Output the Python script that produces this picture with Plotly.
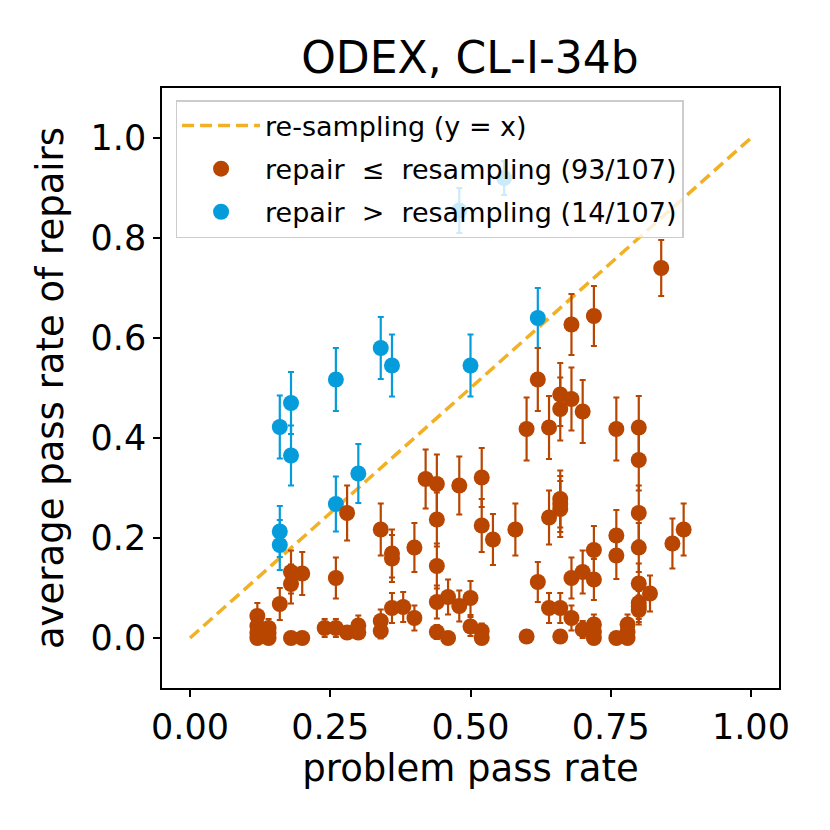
import plotly.graph_objects as go

# Orange: repair <= resampling
orange_x = [0.68, 0.72, 0.84, 0.62, 0.66, 0.68, 0.66, 0.70, 0.60, 0.64,
            0.76, 0.80, 0.80, 0.52, 0.66, 0.66, 0.64, 0.80, 0.52, 0.54,
            0.58, 0.76, 0.72, 0.76, 0.80, 0.86, 0.88, 0.62, 0.68, 0.70,
            0.72, 0.80, 0.82, 0.64, 0.66, 0.68, 0.80, 0.80, 0.50, 0.50,
            0.52, 0.52, 0.60, 0.66, 0.70, 0.72, 0.72, 0.76, 0.78, 0.78,
            0.28, 0.34, 0.36, 0.36, 0.40, 0.42, 0.44, 0.48, 0.44, 0.44,
            0.18, 0.20, 0.18, 0.26, 0.16, 0.12, 0.12, 0.12, 0.14, 0.14,
            0.18, 0.20, 0.24, 0.26, 0.28, 0.30, 0.30, 0.34, 0.34, 0.36,
            0.38, 0.40, 0.44, 0.46, 0.48, 0.44, 0.46, 0.12, 0.14, 0.72,
            0.78, 0.80, 0.66]
orange_y = [0.627, 0.644, 0.740, 0.517, 0.487, 0.478, 0.458, 0.453, 0.418, 0.421,
            0.418, 0.421, 0.356, 0.321, 0.278, 0.258, 0.241, 0.250, 0.225, 0.197,
            0.217, 0.205, 0.176, 0.165, 0.181, 0.189, 0.217, 0.112, 0.120, 0.132,
            0.117, 0.109, 0.089, 0.060, 0.060, 0.040, 0.070, 0.056, 0.080, 0.023,
            0.014, 0.000, 0.003, 0.003, 0.017, 0.027, 0.000, 0.000, 0.027, 0.000,
            0.250, 0.217, 0.169, 0.159, 0.181, 0.318, 0.308, 0.305, 0.237, 0.144,
            0.132, 0.129, 0.108, 0.120, 0.068, 0.044, 0.024, 0.000, 0.020, 0.000,
            0.000, 0.000, 0.020, 0.020, 0.011, 0.025, 0.011, 0.034, 0.014, 0.060,
            0.062, 0.040, 0.072, 0.082, 0.064, 0.012, 0.000, 0.010, 0.010, 0.012,
            0.012, 0.063, 0.268]
orange_err = [0.061, 0.060, 0.056, 0.063, 0.063, 0.063, 0.063, 0.063, 0.063, 0.063,
              0.063, 0.063, 0.061, 0.059, 0.057, 0.056, 0.054, 0.055, 0.053, 0.051,
              0.052, 0.051, 0.048, 0.047, 0.049, 0.050, 0.052, 0.040, 0.041, 0.043,
              0.041, 0.040, 0.036, 0.030, 0.030, 0.025, 0.032, 0.029, 0.034, 0.019,
              0.015, 0.000, 0.000, 0.000, 0.017, 0.020, 0.000, 0.000, 0.020, 0.000,
              0.055, 0.052, 0.048, 0.047, 0.049, 0.059, 0.059, 0.058, 0.054, 0.045,
              0.043, 0.043, 0.039, 0.041, 0.032, 0.026, 0.019, 0.000, 0.018, 0.000,
              0.000, 0.000, 0.018, 0.018, 0.013, 0.020, 0.013, 0.023, 0.015, 0.030,
              0.030, 0.025, 0.033, 0.035, 0.031, 0.014, 0.000, 0.012, 0.012, 0.014,
              0.014, 0.031, 0.056]

# Blue: repair > resampling
blue_x = [0.56, 0.48, 0.62, 0.50, 0.34, 0.36, 0.26, 0.18, 0.16, 0.18, 0.30, 0.26, 0.16, 0.16]
blue_y = [0.920, 0.855, 0.640, 0.545, 0.580, 0.545, 0.517, 0.470, 0.422, 0.365, 0.329, 0.268, 0.213, 0.186]
blue_err = [0.034, 0.045, 0.060, 0.062, 0.062, 0.062, 0.063, 0.062, 0.063, 0.060, 0.059, 0.055, 0.051, 0.050]

line_x = [0, 1]
line_y = [0, 1]

x_ticks = [0, 0.25, 0.5, 0.75, 1.0]
x_tick_labels = ["0.00", "0.25", "0.50", "0.75", "1.00"]
y_ticks = [0, 0.2, 0.4, 0.6, 0.8, 1.0]
y_tick_labels = ["0.0", "0.2", "0.4", "0.6", "0.8", "1.0"]

ORANGE = "#b84500"
BLUE = "#049cdb"
YELLOW = "#f2b125"
FONT = "DejaVu Sans"

fig = go.Figure()
fig.add_trace(go.Scatter(
    x=line_x, y=line_y, mode="lines", name="re-sampling (y = x)",
    line=dict(color=YELLOW, width=3.5, dash="12px,6px"), legendrank=1, legendgroup="a"))
fig.add_trace(go.Scatter(
    x=blue_x, y=blue_y, mode="markers", name="repair  >  resampling (14/107)",
    marker=dict(color=BLUE, size=16),
    error_y=dict(type="data", array=blue_err, color=BLUE, thickness=2.2, width=3),
    legendrank=3, legendgroup="c"))
fig.add_trace(go.Scatter(
    x=orange_x, y=orange_y, mode="markers", name="repair  ≤  resampling (93/107)",
    marker=dict(color=ORANGE, size=16),
    error_y=dict(type="data", array=orange_err, color=ORANGE, thickness=2.2, width=3),
    legendrank=2, legendgroup="b"))

axis_common = dict(
    showgrid=False, zeroline=False, showline=True, linecolor="black", linewidth=1.5,
    mirror=True, ticks="outside", ticklen=7, tickwidth=1.5, tickcolor="black",
    tickfont=dict(family=FONT, size=35, color="black"),
)
fig.update_xaxes(range=[-0.05, 1.05], tickvals=x_ticks, ticktext=x_tick_labels,
                 title=dict(text="problem pass rate", font=dict(family=FONT, size=37, color="black"), standoff=2),
                 **axis_common)
fig.update_yaxes(range=[-0.1, 1.1], tickvals=y_ticks, ticktext=y_tick_labels,
                 title=dict(text="average pass rate of repairs", font=dict(family=FONT, size=37, color="black"), standoff=16),
                 **axis_common)

fig.update_layout(
    width=822, height=822,
    margin=dict(l=154, r=51, t=80, b=142, autoexpand=False),
    paper_bgcolor="white", plot_bgcolor="white",
    title=dict(text="ODEX, CL-I-34b", x=0.562, xanchor="center", y=0.940, yanchor="middle",
               font=dict(family=FONT, size=44, color="black")),
    legend=dict(x=0.022, y=0.98, xanchor="left", yanchor="top",
                bgcolor="rgba(255,255,255,0.8)", bordercolor="#cccccc", borderwidth=1.5,
                font=dict(family=FONT, size=27, color="black"),
                traceorder="grouped", tracegroupgap=5, itemwidth=78),
    showlegend=True,
)

fig.write_html("out.html")
